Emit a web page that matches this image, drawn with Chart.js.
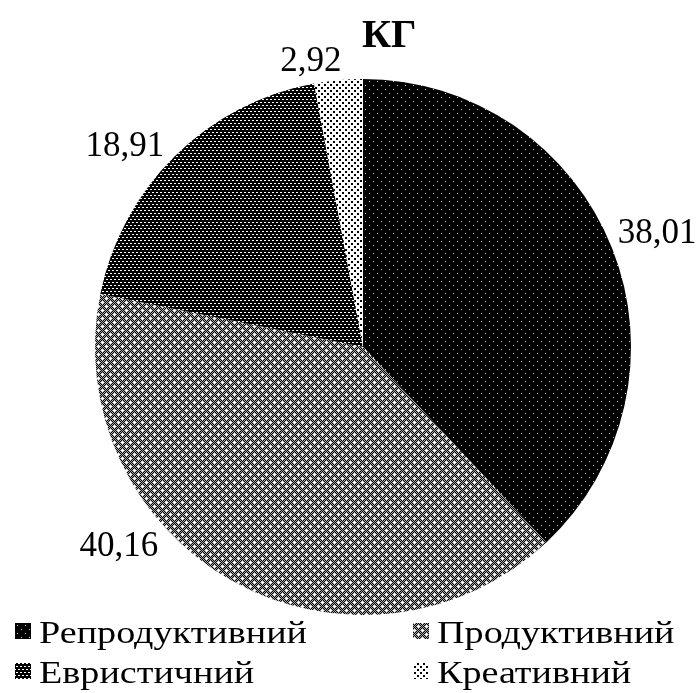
<!DOCTYPE html>
<html><head><meta charset="utf-8">
<script src="https://cdn.jsdelivr.net/npm/chart.js@4"></script>
<style>html,body{margin:0;padding:0;background:#fff;} #wrap{width:700px;height:693px;}</style>
</head><body><div id="wrap"><canvas id="c" width="700" height="693"></canvas></div>
<script>
// ---- data ----
const chartTitle = 'КГ';
const categories = ['Репродуктивний', 'Продуктивний', 'Евристичний', 'Креативний'];
const values = [38.01, 40.16, 18.91, 2.92];

// ---- style ----
const labelAngleShiftDeg = [0, 22, -5, -5];
const SERIF = '"Liberation Serif", "Times New Roman", serif';

const canvas = document.getElementById('c');
const ctx = canvas.getContext('2d');

function makePattern(w, h, draw) {
  const c = document.createElement('canvas');
  c.width = w; c.height = h;
  const g = c.getContext('2d');
  draw(g);
  return ctx.createPattern(c, 'repeat');
}
const patterns = [
  makePattern(8, 8, g => { g.fillStyle = '#000'; g.fillRect(0,0,8,8); g.fillStyle = '#d0d0d0'; g.fillRect(1,1,1,1); g.fillRect(5,5,1,1); }),
  makePattern(8, 8, g => {
    for (let y = 0; y < 8; y++) for (let x = 0; x < 8; x++) { g.fillStyle = (x + y) % 2 ? '#000' : '#a8a8a8'; g.fillRect(x, y, 1, 1); }
    g.fillStyle = '#fff';
    [[2,2],[6,6]].forEach(([cx,cy]) => { g.fillRect(cx-1,cy,3,1); g.fillRect(cx,cy-1,1,3); });
  }),
  makePattern(4, 6, g => { g.fillStyle = '#000'; g.fillRect(0,0,4,6); g.fillStyle = '#fff'; g.fillRect(0,0,2,1); g.fillRect(2,3,2,1); }),
  makePattern(6, 6, g => { g.fillStyle = '#fff'; g.fillRect(0,0,6,6); g.fillStyle = '#000'; g.fillRect(0,0,2,2); g.fillRect(3,3,2,2); })
];

const overlay = {
  id: 'overlay',
  afterDraw(chart) {
    const c = chart.ctx;
    const meta = chart.getDatasetMeta(0);
    const cx = meta.data[0].x, cy = meta.data[0].y;
    c.save();
    c.fillStyle = '#000';
    // title
    c.font = 'bold 40px ' + SERIF;
    c.textAlign = 'left'; c.textBaseline = 'alphabetic';
    c.fillText(chartTitle, cx - 1, 47);
    // value labels
    c.font = '35px ' + SERIF;
    c.textAlign = 'center';
    meta.data.forEach((arc, i) => {
      const p = arc.getProps(['startAngle','endAngle','outerRadius'], true);
      const mid = (p.startAngle + p.endAngle) / 2 + labelAngleShiftDeg[i] * Math.PI / 180;
      const dx = Math.cos(mid), dy = Math.sin(mid);
      const txt = values[i].toFixed(2).replace('.', ',');
      const w = c.measureText(txt).width, h = 25;
      const dist = p.outerRadius + 7 + (w / 2) * Math.abs(dx) + (h / 2) * Math.abs(dy);
      c.fillText(txt, cx + dist * dx, cy + dist * dy + h / 2);
    });
    // legend
    c.font = '32px ' + SERIF;
    c.textAlign = 'left';
    const sx = 268 / c.measureText(categories[0]).width;
    const colBox = [15, 413], colText = [39, 437], rowTop = [623, 663], box = 16;
    categories.forEach((name, i) => {
      const col = i % 2, row = Math.floor(i / 2);
      c.fillStyle = patterns[i];
      c.fillRect(colBox[col], rowTop[row], box, box);
      c.fillStyle = '#000';
      c.save();
      c.translate(colText[col], rowTop[row] + 20);
      c.scale(sx, 1);
      c.fillText(name, 0, 0);
      c.restore();
    });
    c.restore();
  }
};

new Chart(canvas, {
  type: 'pie',
  data: {
    labels: categories,
    datasets: [{ data: values, backgroundColor: patterns, borderWidth: 0 }]
  },
  options: {
    responsive: false,
    animation: false,
    devicePixelRatio: 1,
    layout: { padding: { left: 95, right: 69, top: 79, bottom: 78 } },
    plugins: { legend: { display: false }, title: { display: false }, tooltip: { enabled: false } }
  },
  plugins: [overlay]
});
</script>
</body></html>
